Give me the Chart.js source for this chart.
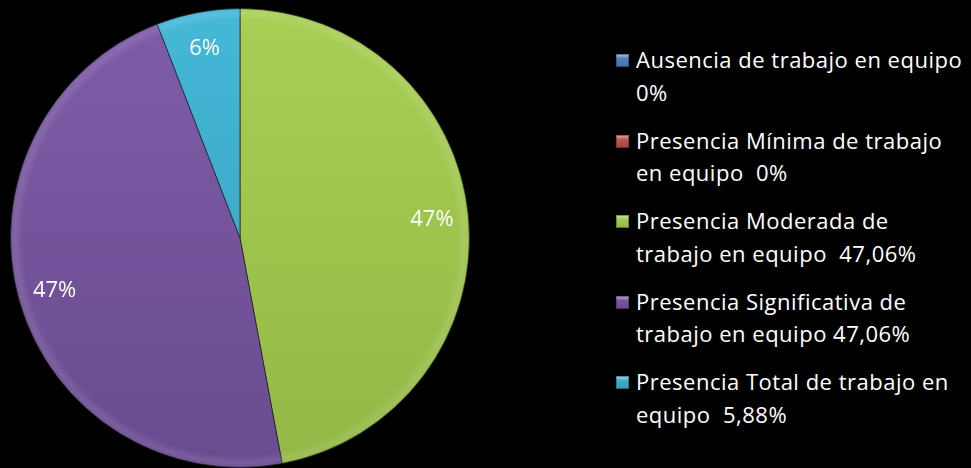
<!DOCTYPE html>
<html>
<head>
<meta charset="utf-8">
<script src="https://cdn.jsdelivr.net/npm/chart.js@4.4.1/dist/chart.umd.min.js"></script>
<style>
  html, body { margin: 0; padding: 0; background: #000; }
  #wrap { position: relative; width: 971px; height: 468px; background: #000; overflow: hidden; }
  #pieBox { position: absolute; left: 0; top: 0; width: 480px; height: 468px; }
  #legend { position: absolute; left: 616px; top: 43px; width: 355px; font-family: "Open Sans", sans-serif; font-size: 22px; letter-spacing: 0.5px; color: #fff; }
  .item { position: relative; padding-left: 20px; line-height: 32.5px; margin-bottom: 15.5px; white-space: pre; }
  .mark { position: absolute; left: 0; top: 11px; width: 13px; height: 13px; }
</style>
</head>
<body>
<div id="wrap">
  <div id="pieBox"><canvas id="c"></canvas></div>
  <div id="legend"></div>
</div>
<script>
// Categories and their shares (percent)
const categories = [
  ["Ausencia de trabajo en equipo", "0%"],
  ["Presencia Mínima de trabajo", "en equipo  0%"],
  ["Presencia Moderada de", "trabajo en equipo  47,06%"],
  ["Presencia Significativa de", "trabajo en equipo 47,06%"],
  ["Presencia Total de trabajo en", "equipo  5,88%"]
];
const values = [0, 0, 47.06, 47.06, 5.88];
const sliceLabels = ["0%", "0%", "47%", "47%", "6%"];
const colorsTop = ["#5A8BC8", "#CC5A57", "#A9CF55", "#7F5CA8", "#45B8D8"];
const colorsBottom = ["#416FA8", "#A84441", "#93B846", "#6A4B90", "#359CB8"];

// Vertical shading across the whole pie
function sliceFill(ctx) {
  const i = ctx.dataIndex;
  const area = ctx.chart.chartArea;
  if (!area || i === undefined) return colorsTop[i || 0];
  const g = ctx.chart.ctx.createLinearGradient(0, area.top, 0, area.bottom);
  g.addColorStop(0, colorsTop[i]);
  g.addColorStop(1, colorsBottom[i]);
  return g;
}

// Soft bevelled rim on each slice plus percentage labels
const sliceDecor = {
  id: 'sliceDecor',
  afterDatasetsDraw(chart) {
    const ctx = chart.ctx;
    const meta = chart.getDatasetMeta(0);
    meta.data.forEach((arc, i) => {
      if (!values[i]) return;
      const R = arc.outerRadius;
      ctx.save();
      ctx.beginPath();
      ctx.moveTo(arc.x, arc.y);
      ctx.arc(arc.x, arc.y, R, arc.startAngle, arc.endAngle);
      ctx.closePath();
      ctx.clip();
      const g = ctx.createRadialGradient(arc.x, arc.y, R - 12, arc.x, arc.y, R);
      g.addColorStop(0, 'rgba(255,255,255,0)');
      g.addColorStop(0.6, 'rgba(255,255,255,0.10)');
      g.addColorStop(0.85, 'rgba(255,255,255,0.06)');
      g.addColorStop(1, 'rgba(0,0,0,0.25)');
      ctx.fillStyle = g;
      ctx.fillRect(arc.x - R, arc.y - R, 2 * R, 2 * R);
      ctx.restore();
    });
    ctx.save();
    ctx.fillStyle = '#fff';
    ctx.font = '22px "Open Sans", sans-serif';
    ctx.textAlign = 'center';
    ctx.textBaseline = 'middle';
    meta.data.forEach((arc, i) => {
      if (!values[i]) return;
      const mid = (arc.startAngle + arc.endAngle) / 2;
      const r = arc.outerRadius * 0.84;
      ctx.fillText(sliceLabels[i], arc.x + Math.cos(mid) * r, arc.y + Math.sin(mid) * r);
    });
    ctx.restore();
  }
};

new Chart(document.getElementById('c'), {
  type: 'pie',
  data: {
    labels: categories.map(c => c.join(' ')),
    datasets: [{
      data: values,
      backgroundColor: sliceFill,
      borderColor: 'rgba(30,30,30,0.7)',
      borderWidth: 1
    }]
  },
  options: {
    responsive: true,
    maintainAspectRatio: false,
    animation: false,
    layout: { padding: { top: 8, bottom: 0, left: 10, right: 10 } },
    plugins: { legend: { display: false }, tooltip: { enabled: false } }
  },
  plugins: [sliceDecor]
});

// Legend built from the category list
const legend = document.getElementById('legend');
categories.forEach((c, i) => {
  const item = document.createElement('div');
  item.className = 'item';
  const m = document.createElement('div');
  m.className = 'mark';
  m.style.background = 'linear-gradient(180deg, ' + colorsTop[i] + ', ' + colorsBottom[i] + ')';
  m.style.boxShadow = 'inset 0 0 0 1px rgba(0,0,0,0.35), inset 0 3px 2px rgba(255,255,255,0.35)';
  item.appendChild(m);
  item.appendChild(document.createTextNode(c[0] + '\n' + c[1]));
  legend.appendChild(item);
});
</script>
</body>
</html>
